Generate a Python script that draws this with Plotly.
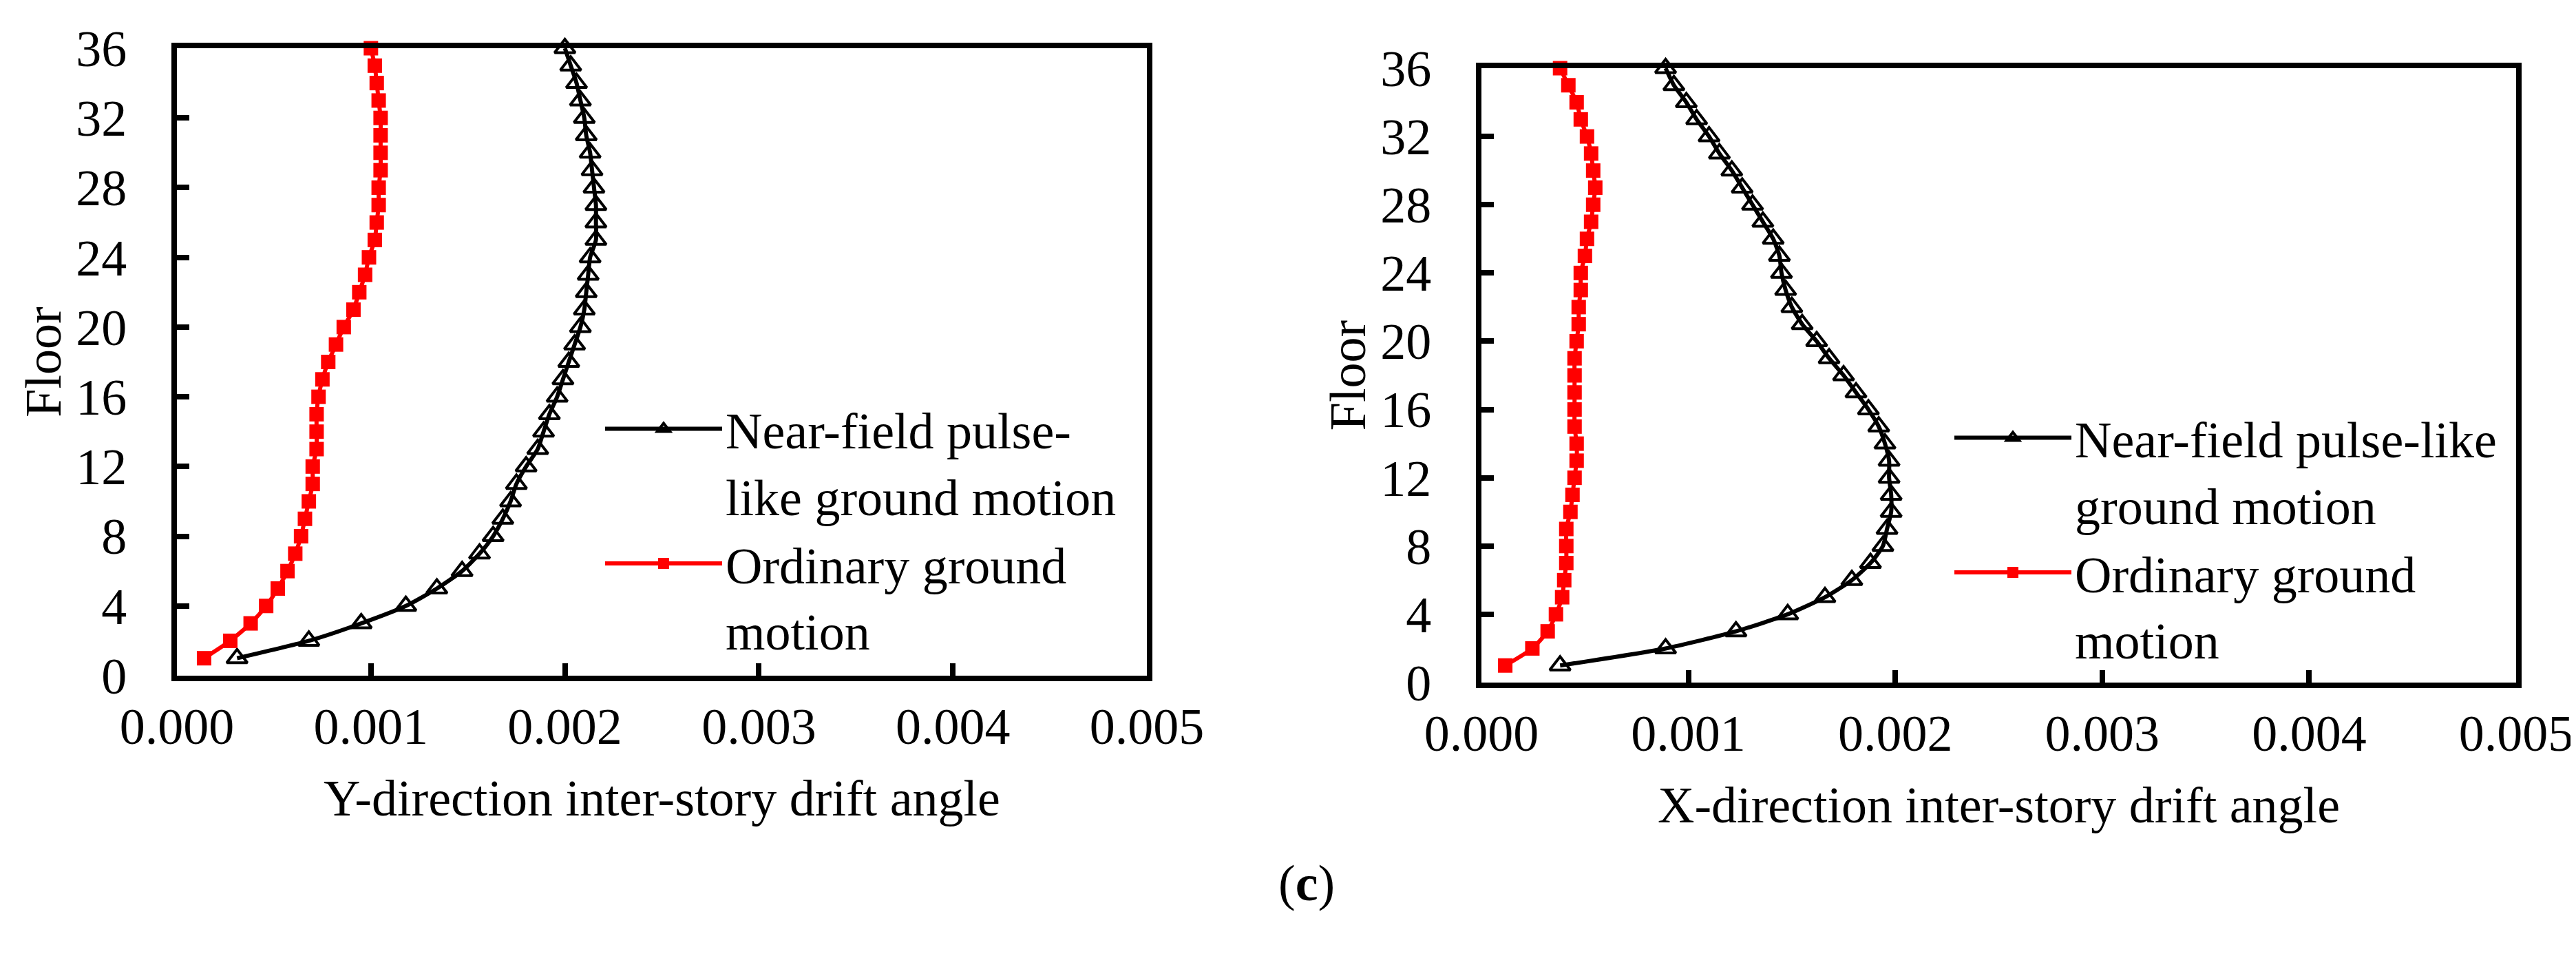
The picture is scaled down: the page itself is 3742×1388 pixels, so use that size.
import plotly.graph_objs as go
from plotly.subplots import make_subplots

floors = list(range(1, 37))

# Y-direction inter-story drift angle (left panel)
y_near = [0.00031, 0.00068, 0.00095, 0.00118, 0.00134, 0.00147, 0.00156, 0.00163,
          0.00168, 0.00172, 0.00175, 0.00180, 0.00186, 0.00189, 0.00192, 0.00196,
          0.00199, 0.00202, 0.00205, 0.00208, 0.00210, 0.00211, 0.00212, 0.00213,
          0.00216, 0.00216, 0.00216, 0.00215, 0.00214, 0.00213, 0.00211, 0.00210,
          0.00208, 0.00206, 0.00203, 0.00200]
y_ordinary = [0.00014, 0.000275, 0.00038, 0.00046, 0.00052, 0.00057, 0.00061, 0.00064,
              0.00066, 0.00068, 0.00070, 0.00070, 0.00072, 0.00072, 0.00072, 0.00073,
              0.00075, 0.00078, 0.00082, 0.00086, 0.00091, 0.00094, 0.00097, 0.00099,
              0.00102, 0.00103, 0.00104, 0.00104, 0.00105, 0.00105, 0.00105, 0.00105,
              0.00104, 0.00103, 0.00102, 0.00100]

# X-direction inter-story drift angle (right panel)
x_near = [0.00038, 0.00089, 0.00123, 0.00148, 0.00166, 0.00179, 0.00188, 0.00194,
          0.00196, 0.00198, 0.00198, 0.00197, 0.00197, 0.00195, 0.00192, 0.00187,
          0.00181, 0.00175, 0.00168, 0.00162, 0.00155, 0.00150, 0.00147, 0.00145,
          0.00144, 0.00141, 0.00136, 0.00131, 0.00126, 0.00121, 0.00115, 0.00110,
          0.00104, 0.00099, 0.00093, 0.00089]
x_ordinary = [0.000115, 0.000246, 0.00032, 0.00036, 0.00039, 0.00040, 0.00041, 0.00041,
              0.00041, 0.00043, 0.00044, 0.00045, 0.00046, 0.00046, 0.00045, 0.00045,
              0.00045, 0.00045, 0.00045, 0.00046, 0.00047, 0.00047, 0.00048, 0.00048,
              0.00050, 0.00051, 0.00053, 0.00054, 0.00055, 0.00054, 0.00053, 0.00051,
              0.00048, 0.00046, 0.00042, 0.00038]

x_ticks = [0.000, 0.001, 0.002, 0.003, 0.004, 0.005]
y_ticks = list(range(0, 37, 4))

FONT = 'Liberation Serif'
W, H = 3742, 1388

fig = make_subplots(rows=1, cols=2)

near_line = dict(color='black', width=6, shape='spline', smoothing=0.6)
near_marker = dict(symbol='triangle-up-open', size=26, color='black', line=dict(width=4))
ord_line = dict(color='#ff0000', width=6, shape='spline', smoothing=0.6)
ord_marker = dict(symbol='square', size=21, color='#ff0000')

# left panel
fig.add_trace(go.Scatter(
    x=y_near, y=floors, mode='lines+markers', name='Near-field pulse-<br>like ground motion',
    line=near_line, marker=near_marker, cliponaxis=False, legend='legend'), row=1, col=1)
fig.add_trace(go.Scatter(
    x=y_ordinary, y=floors, mode='lines+markers', name='Ordinary ground<br>motion',
    line=ord_line, marker=ord_marker, cliponaxis=False, legend='legend'), row=1, col=1)

# right panel
fig.add_trace(go.Scatter(
    x=x_near, y=floors, mode='lines+markers', name='Near-field pulse-like<br>ground motion',
    line=near_line, marker=near_marker, cliponaxis=False, legend='legend2'), row=1, col=2)
fig.add_trace(go.Scatter(
    x=x_ordinary, y=floors, mode='lines+markers', name='Ordinary ground<br>motion',
    line=ord_line, marker=ord_marker, cliponaxis=False, legend='legend2'), row=1, col=2)

axis_common = dict(
    showline=True, linecolor='black', linewidth=8, mirror=True,
    showgrid=False, zeroline=False,
    ticks='inside', ticklen=18, tickwidth=8, tickcolor='black',
    tickfont=dict(family=FONT, size=74, color='black'),
)

# pixel positions of the plot boxes
left_box = (249, 1658, 62, 973)
right_box = (2144, 3647, 91, 983)


def dom(box):
    x0, x1, y0, y1 = box
    return [x0 / W, x1 / W], [1 - y1 / H, 1 - y0 / H]


lx, ly = dom(left_box)
rx, ry = dom(right_box)

fig.update_xaxes(axis_common, range=[0, 0.005], tickvals=x_ticks, tickformat='.3f',
                 ticklabelstandoff=2,
                 title_font=dict(family=FONT, size=74, color='black'), title_standoff=40)
fig.update_yaxes(axis_common, range=[0, 36], tickvals=y_ticks,
                 ticklabelstandoff=50,
                 title_font=dict(family=FONT, size=74, color='black'), title_standoff=0)

fig.update_xaxes(domain=lx, title_text='Y-direction inter-story drift angle', row=1, col=1)
fig.update_yaxes(domain=ly, title_text='Floor', row=1, col=1)
fig.update_xaxes(domain=rx, title_text='X-direction inter-story drift angle', row=1, col=2)
fig.update_yaxes(domain=ry, title_text='Floor', row=1, col=2)

legend_common = dict(
    font=dict(family=FONT, size=74, color='black'),
    bgcolor='rgba(0,0,0,0)', borderwidth=0,
    xanchor='left', yanchor='top', valign='top',
    itemwidth=170, tracegroupgap=0, itemsizing='trace',
)

fig.update_layout(
    width=W, height=H,
    margin=dict(l=0, r=0, t=0, b=0, autoexpand=False),
    paper_bgcolor='white', plot_bgcolor='white',
    font=dict(family=FONT, color='black'),
    showlegend=True,
    legend=dict(legend_common, x=866 / W, y=1 - 560 / H),
    legend2=dict(legend_common, x=2826 / W, y=1 - 573 / H),
    annotations=[dict(
        text='(<b>c</b>)', x=1890 / W, y=1 - 1317 / H, xref='paper', yref='paper',
        showarrow=False, font=dict(family=FONT, size=74, color='black'))],
)

fig.write_html('out.html')
